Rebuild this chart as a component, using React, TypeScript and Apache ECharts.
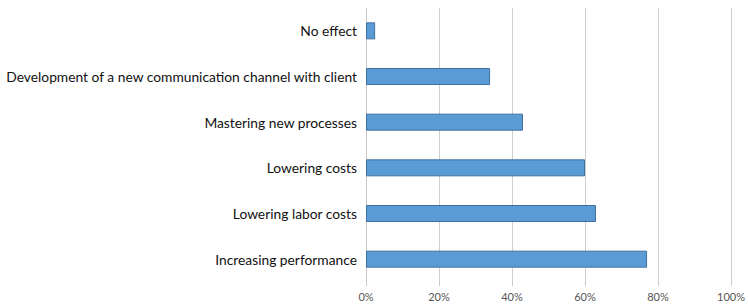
import React, { useEffect, useRef } from "react";
import * as echarts from "echarts";

const categories = [
  "No effect",
  "Development of a new communication channel with client",
  "Mastering new processes",
  "Lowering costs",
  "Lowering labor costs",
  "Increasing performance",
];
const values = [2.5, 34, 43, 60, 63, 77];
const xTicks = [0, 20, 40, 60, 80, 100];

export default function App() {
  const ref = useRef<HTMLDivElement>(null);
  useEffect(() => {
    if (!ref.current) return;
    const chart = echarts.init(ref.current, null, { renderer: "svg" });
    chart.setOption({
      animation: false,
      backgroundColor: "#ffffff",
      grid: { left: 366, right: 15, top: 8, bottom: 25, containLabel: false },
      xAxis: {
        type: "value",
        min: xTicks[0],
        max: xTicks[xTicks.length - 1],
        interval: 20,
        axisLine: { show: false },
        axisTick: { show: true, length: 4, lineStyle: { color: "#c8c8c8" } },
        splitLine: { show: true, lineStyle: { color: "#cfcfcf", width: 1 } },
        axisLabel: {
          formatter: "{value}%",
          color: "#555",
          fontFamily: "Lato",
          fontSize: 11,
          margin: 9,
        },
      },
      yAxis: {
        type: "category",
        data: categories,
        inverse: true,
        axisLine: { show: true, lineStyle: { color: "#c8c8c8" } },
        axisTick: { show: false },
        axisLabel: {
          color: "#111",
          fontFamily: "Lato",
          fontSize: 13.8,
          margin: 9,
        },
      },
      series: [
        {
          type: "bar",
          data: values,
          barWidth: 17,
          itemStyle: {
            color: "#5b9bd5",
            borderColor: "#3f6f9f",
            borderWidth: 1,
          },
        },
      ],
    });
    return () => chart.dispose();
  }, []);
  return (
    <div
      ref={ref}
      style={{ position: "absolute", left: 0, top: 0, width: 748, height: 307 }}
    />
  );
}
